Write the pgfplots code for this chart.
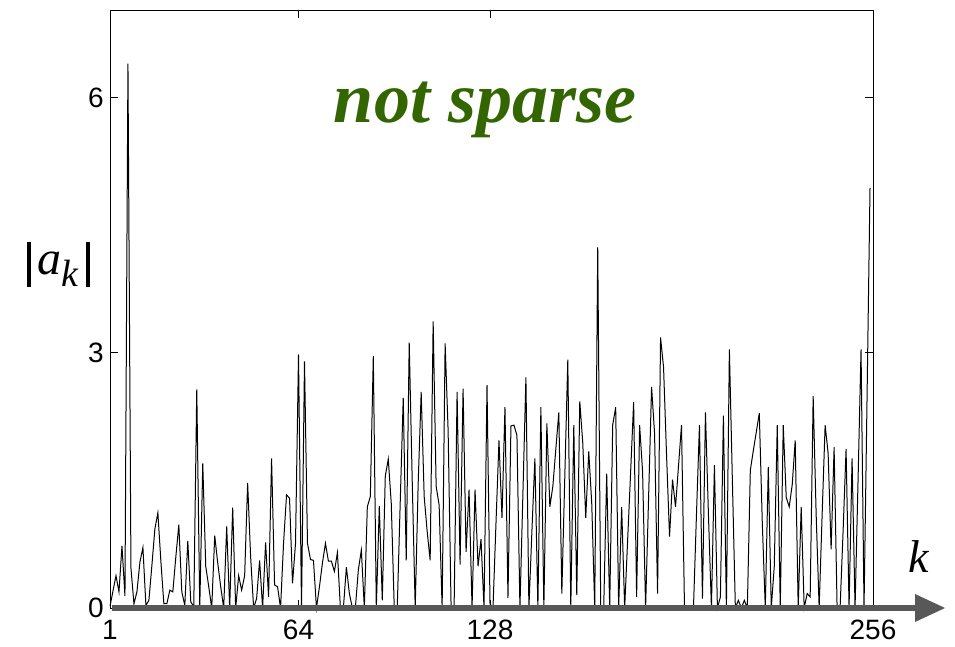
\documentclass[border=0pt]{standalone}
\usepackage{fontspec}
\setmainfont{Liberation Sans}
\newfontfamily\tnr{Liberation Serif}
\usepackage{pgfplots}
\pgfplotsset{compat=1.18}
\definecolor{titlegreen}{RGB}{51,102,0}
\definecolor{arrowgray}{RGB}{88,88,88}
\begin{document}
\begin{tikzpicture}
\begin{axis}[
  at={(0,0)}, anchor=south west,
  scale only axis, width=763pt, height=598pt,
  xmin=1, xmax=256, ymin=0, ymax=7.03,
  xtick={1,64,128,256}, ytick={0,3,6},
  tick align=inside, major tick length=8pt,
  axis line style={line width=0.9pt, black},
  every tick/.style={line width=0.9pt, black},
  /pgf/number format/assume math mode=true,
  tick label style={font=\fontsize{28}{30}\selectfont},
  yticklabel style={inner sep=0pt, anchor=east, xshift=-6pt},
  xticklabel style={inner sep=0pt, anchor=north, yshift=-12pt},
  clip=false,
]
\addplot[black, line width=1pt, mark=none] coordinates {
(1,0.02)(2,0.2)(3,0.38)(4,0.19)(5,0.73)(6,0.14)(7,6.4)(8,0.47)(9,0.05)(10,0.19)
(11,0.54)(12,0.71)(13,0.03)(14,0.09)(15,0.5)(16,0.93)(17,1.12)(18,0.55)(19,0.05)(20,0.05)
(21,0.21)(22,0.19)(23,0.6)(24,0.98)(25,0.19)(26,0.03)(27,0.79)(28,0.07)(29,0.02)(30,2.57)
(31,0.0)(32,1.70)(33,0.49)(34,0.25)(35,0.0)(36,0.85)(37,0.53)(38,0.25)(39,0.0)(40,0.96)
(41,0.0)(42,1.18)(43,0.0)(44,0.38)(45,0.21)(46,0.38)(47,1.47)(48,0.60)(49,0.0)(50,0.11)
(51,0.56)(52,0.0)(53,0.77)(54,0.13)(55,1.76)(56,0.27)(57,0.25)(58,0.0)(59,0.76)(60,1.33)
(61,1.29)(62,0.29)(63,0.76)(64,2.98)(65,0.0)(66,2.90)(67,0.76)(68,0.57)(69,0.56)(70,0.0)
(71,0.25)(72,0.53)(73,0.76)(74,0.55)(75,0.55)(76,0.43)(77,0.65)(78,0.0)(79,0.0)(80,0.48)
(81,0.17)(82,0.0)(83,0.0)(84,0.45)(85,0.68)(86,0.0)(87,1.19)(88,1.31)(89,2.96)(90,0.0)
(91,1.20)(92,0.09)(93,1.55)(94,1.75)(95,1.23)(96,0.0)(97,0.0)(98,1.25)(99,2.47)(100,0.56)
(101,3.12)(102,1.5)(103,0.0)(104,1.47)(105,2.54)(106,1.31)(107,0.9)(108,0.56)(109,3.37)(110,1.43)
(111,1.21)(112,0.0)(113,3.11)(114,2.09)(115,0.0)(116,0.0)(117,2.54)(118,0.51)(119,2.58)(120,0.66)
(121,1.39)(122,0.0)(123,1.39)(124,0.49)(125,0.81)(126,0.0)(127,2.62)(128,0.05)(129,0.0)(130,1.0)
(131,1.97)(132,1.06)(133,2.36)(134,0.12)(135,2.14)(136,2.15)(137,2.03)(138,0.0)(139,1.35)(140,2.71)
(141,0.0)(142,0.9)(143,1.76)(144,0.0)(145,2.36)(146,0.0)(147,2.17)(148,1.19)(149,1.43)(150,1.87)
(151,2.30)(152,0.17)(153,1.55)(154,2.92)(155,0.0)(156,2.15)(157,0.15)(158,2.43)(159,1.94)(160,1.06)
(161,1.84)(162,1.23)(163,0.0)(164,4.24)(165,0.0)(166,0.0)(167,1.58)(168,0.0)(169,2.15)(170,2.36)
(171,0.0)(172,1.19)(173,0.0)(174,0.8)(175,1.6)(176,2.42)(177,0.13)(178,2.15)(179,1.60)(180,0.0)
(181,1.3)(182,2.60)(183,2.05)(184,0.17)(185,3.18)(186,2.83)(187,1.8)(188,0.84)(189,1.51)(190,1.19)
(191,1.67)(192,2.15)(193,0.0)(194,0.0)(195,0.0)(196,0.0)(197,1.1)(198,2.15)(199,0.11)(200,2.30)
(201,1.1)(202,0.0)(203,1.68)(204,0.0)(205,0.13)(206,2.26)(207,0.0)(208,3.04)(209,1.5)(210,0.0)
(211,0.09)(212,0.0)(213,0.09)(214,0.0)(215,1.62)(216,1.85)(217,2.07)(218,2.29)(219,1.0)(220,0.0)
(221,1.66)(222,0.0)(223,0.49)(224,2.15)(225,0.0)(226,2.15)(227,1.30)(228,1.19)(229,1.45)(230,1.97)
(231,0.0)(232,1.19)(233,0.0)(234,0.17)(235,0.13)(236,2.49)(237,1.1)(238,0.0)(239,1.1)(240,2.15)
(241,1.82)(242,0.69)(243,1.89)(244,0.0)(245,0.0)(246,0.9)(247,1.87)(248,0.0)(249,1.76)(250,0.0)
(251,1.5)(252,3.04)(253,0.0)(254,2.45)(255,4.94)
};
\end{axis}
% horizontal arrow along the k axis
\draw[arrowgray, line width=6pt] (1.5pt,0) -- (807pt,0);
\fill[arrowgray] (805pt,14pt) -- (835pt,0pt) -- (805pt,-14pt) -- cycle;
% labels
\node[font=\tnr\itshape\fontsize{46}{48}\selectfont, inner sep=0pt] at (809pt,51pt) {k};
\node[font=\tnr\fontsize{48}{50}\selectfont, inner sep=0pt] at (-51.5pt,343.5pt)
  {\rule[-12pt]{4pt}{45pt}\hspace{7pt}\textit{a}\raisebox{-12pt}{\fontsize{38}{40}\selectfont\textit{k}}\hspace{7pt}\rule[-12pt]{4pt}{45pt}};
\node[font=\tnr\bfseries\itshape\fontsize{72}{74}\selectfont, text=titlegreen, inner sep=0pt, anchor=base] at (375pt,485pt) {not sparse};
\pgfresetboundingbox
\path[use as bounding box] (-110pt,-39pt) rectangle (845pt,608pt);
\end{tikzpicture}
\end{document}
